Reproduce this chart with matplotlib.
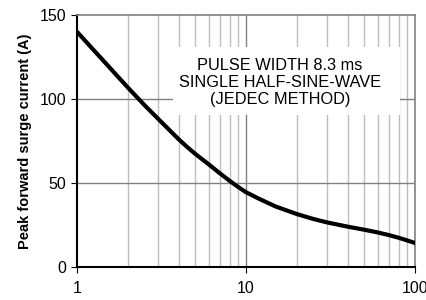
import matplotlib
matplotlib.use('Agg')
import matplotlib.pyplot as plt
from matplotlib.patches import Rectangle
from matplotlib.ticker import FixedLocator, NullFormatter

# Number of cycles at 60 Hz vs peak forward surge current (A)
CYCLES = [1, 1.25, 1.5, 1.75, 2, 2.5, 3, 3.5, 4, 4.5, 5, 6, 7, 8, 9, 10,
          12, 15, 20, 25, 30, 40, 50, 60, 70, 80, 90, 100]
CURRENT = [140, 129.3, 120.6, 113.2, 106.8, 96.5, 88.5, 81.8, 76, 71.3, 67.4, 61.2, 55.8,
           51.3, 47.6, 44.5, 40.5, 36, 31.5, 28.6, 26.6, 24, 22.2, 20.6, 19, 17.4, 15.8, 14.3]

X_TICKS = [1, 10, 100]
X_LABELS = ['1', '10', '100']
Y_TICKS = [0, 50, 100, 150]

NOTE = "PULSE WIDTH 8.3 ms\nSINGLE HALF-SINE-WAVE\n(JEDEC METHOD)"

plt.rcParams['font.family'] = ['Liberation Sans', 'DejaVu Sans']

fig = plt.figure(figsize=(4.26, 3.0), dpi=100)
ax = fig.add_axes([77 / 426, 33 / 300, 338 / 426, 252 / 300])

ax.set_xscale('log')
ax.set_xlim(1, 100)
ax.set_ylim(0, 150)

# grid
minor = [m * d for d in (1, 10) for m in range(2, 10)]
for xv in minor:
    ax.axvline(xv, color='#bdbdbd', lw=1.0, zorder=1)
ax.axvline(10, color='#808080', lw=1.0, zorder=1)
for yv in (50, 100):
    ax.axhline(yv, color='#808080', lw=1.0, zorder=1)

# white panel behind the note, over the grid
ax.add_patch(Rectangle((173 / 426, 1 - 115 / 300), 227 / 426, 68 / 300,
                       transform=fig.transFigure, facecolor='white',
                       edgecolor='none', zorder=2))
ax.text(280 / 426, 1 - 82.5 / 300, NOTE, transform=fig.transFigure, ha='center', va='center',
        fontsize=11.8, linespacing=1.18, zorder=3)

ax.plot(CYCLES, CURRENT, color='black', lw=3.0, solid_capstyle='round', zorder=4)

ax.xaxis.set_major_locator(FixedLocator(X_TICKS))
ax.set_xticklabels(X_LABELS)
ax.xaxis.set_minor_formatter(NullFormatter())
ax.tick_params(axis='x', which='minor', length=0)
ax.set_yticks(Y_TICKS)
ax.tick_params(axis='both', which='major', direction='out', length=4, width=0.8,
               labelsize=11.5, color='black')
ax.tick_params(axis='x', pad=6)

for side in ('top', 'right'):
    ax.spines[side].set_color('#808080')
    ax.spines[side].set_linewidth(1.2)
for side in ('left', 'bottom'):
    ax.spines[side].set_color('black')
    ax.spines[side].set_linewidth(1.5)

ax.set_ylabel('Peak forward surge current (A)', fontsize=10.5, fontweight='bold', labelpad=6)

fig.savefig('out.png', dpi=100)
